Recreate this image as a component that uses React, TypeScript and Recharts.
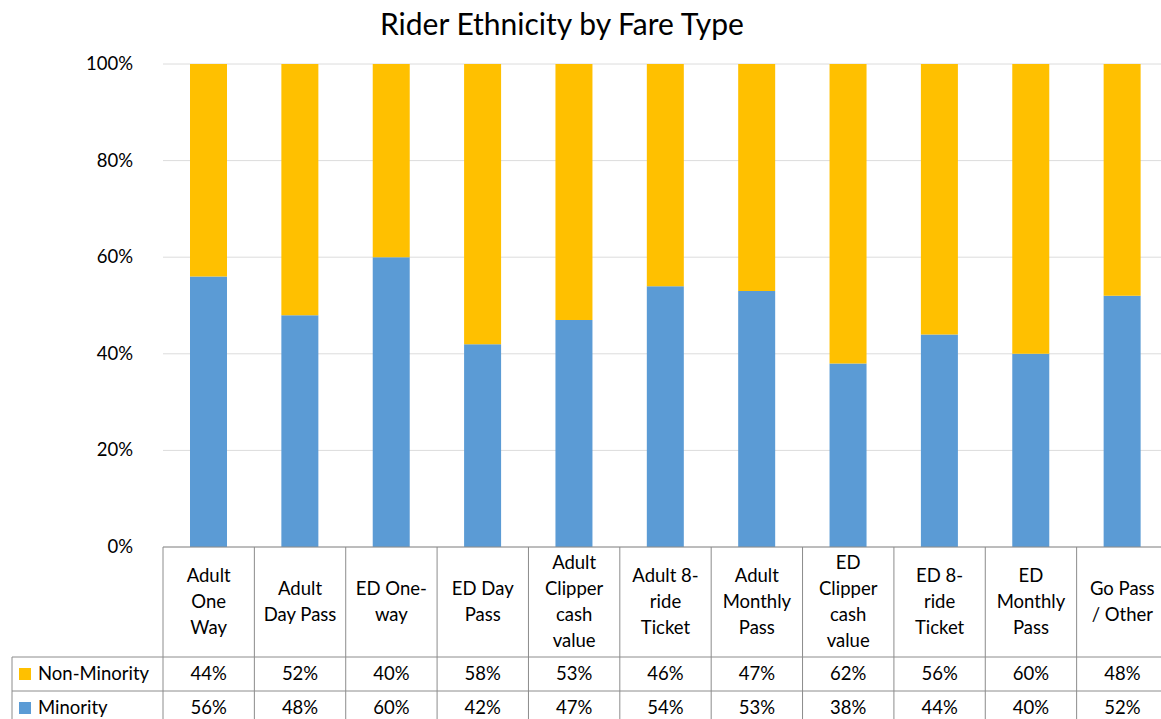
import React from 'react'
import { BarChart, Bar, XAxis, YAxis, CartesianGrid } from 'recharts'

const categories = [
  'Adult One Way',
  'Adult Day Pass',
  'ED One-way',
  'ED Day Pass',
  'Adult Clipper cash value',
  'Adult 8-ride Ticket',
  'Adult Monthly Pass',
  'ED Clipper cash value',
  'ED 8-ride Ticket',
  'ED Monthly Pass',
  'Go Pass / Other',
]

// how each header cell wraps in the data table
const categoryLines = [
  ['Adult', 'One', 'Way'],
  ['Adult', 'Day Pass'],
  ['ED One-', 'way'],
  ['ED Day', 'Pass'],
  ['Adult', 'Clipper', 'cash', 'value'],
  ['Adult 8-', 'ride', 'Ticket'],
  ['Adult', 'Monthly', 'Pass'],
  ['ED', 'Clipper', 'cash', 'value'],
  ['ED 8-', 'ride', 'Ticket'],
  ['ED', 'Monthly', 'Pass'],
  ['Go Pass', '/ Other'],
]

const minority = [56, 48, 60, 42, 47, 54, 53, 38, 44, 40, 52]
const nonMinority = [44, 52, 40, 58, 53, 46, 47, 62, 56, 60, 48]

const yTicks = [0, 20, 40, 60, 80, 100]

const data = categories.map((name, i) => ({
  name,
  minority: minority[i],
  nonMinority: nonMinority[i],
}))

const BLUE = '#5B9BD5'
const YELLOW = '#FFC000'
const BORDER = '#8c8c8c'
const FONT = 'Lato, "Liberation Sans", sans-serif'

const CHART_W = 1180
const CHART_H = 719
const Y_AXIS_W = 163
const MARGIN_RIGHT = 12
const COL_W = (CHART_W - MARGIN_RIGHT - Y_AXIS_W) / categories.length
const HEADER_H = 110
const ROW_H = 34
const LINE_H = 25.7
const TXT = 18.5

function YTick({ x, y, payload }: any) {
  return (
    <text x={x - 22} y={y} dy={6} textAnchor="end" fill="#000" fontSize={18.5} fontFamily={FONT}>
      {payload.value}%
    </text>
  )
}

function TableTick({ x, y, payload, index }: any) {
  const i = payload?.index ?? index
  const left = x - COL_W / 2
  const right = x + COL_W / 2
  const lines = categoryLines[i] || [payload.value]
  const headerMid = y + HEADER_H / 2
  const firstLine = headerMid - ((lines.length - 1) * LINE_H) / 2
  const row1 = y + HEADER_H
  const row2 = row1 + ROW_H
  const row3 = row2 + ROW_H
  const tableLeft = 12
  return (
    <g fontFamily={FONT} fontSize={TXT} fill="#000">
      <line x1={left} y1={y} x2={left} y2={row3 + 20} stroke={BORDER} />
      {i === categories.length - 1 && (
        <line x1={right} y1={y} x2={right} y2={row3 + 20} stroke={BORDER} />
      )}
      <line x1={i === 0 ? tableLeft : left} y1={row1} x2={right} y2={row1} stroke={BORDER} />
      <line x1={i === 0 ? tableLeft : left} y1={row2} x2={right} y2={row2} stroke={BORDER} />
      {lines.map((ln: string, k: number) => (
        <text key={k} x={x} y={firstLine + k * LINE_H} dy={6} textAnchor="middle">
          {ln}
        </text>
      ))}
      <text x={x} y={row1 + ROW_H / 2} dy={6} textAnchor="middle">
        {nonMinority[i]}%
      </text>
      <text x={x} y={row2 + ROW_H / 2} dy={6} textAnchor="middle">
        {minority[i]}%
      </text>
      {i === 0 && (
        <g>
          <line x1={tableLeft} y1={row1} x2={tableLeft} y2={row3 + 20} stroke={BORDER} />
          <rect x={19} y={row1 + ROW_H / 2 - 6} width={12} height={12} fill={YELLOW} />
          <text x={38} y={row1 + ROW_H / 2} dy={6} textAnchor="start">Non-Minority</text>
          <rect x={19} y={row2 + ROW_H / 2 - 6} width={12} height={12} fill={BLUE} />
          <text x={38} y={row2 + ROW_H / 2} dy={6} textAnchor="start">Minority</text>
        </g>
      )}
    </g>
  )
}

export default function App() {
  return (
    <div
      style={{
        position: 'absolute',
        left: 0,
        top: 0,
        width: 1161,
        height: 719,
        overflow: 'hidden',
        background: '#fff',
      }}
    >
      <div
        style={{
          position: 'absolute',
          top: 5,
          left: 0,
          width: 1124,
          textAlign: 'center',
          fontFamily: FONT,
          fontSize: 30,
          color: '#000',
        }}
      >
        Rider Ethnicity by Fare Type
      </div>
      <BarChart
        width={CHART_W}
        height={CHART_H}
        data={data}
        barSize={37}
        margin={{ top: 64, right: MARGIN_RIGHT, left: 0, bottom: 0 }}
      >
        <CartesianGrid vertical={false} stroke="#dcdcdc" />
        <YAxis
          width={Y_AXIS_W}
          domain={[0, 100]}
          ticks={yTicks}
          tick={<YTick />}
          axisLine={false}
          tickLine={false}
          allowDataOverflow
        />
        <XAxis
          dataKey="name"
          height={CHART_H - 547}
          axisLine={{ stroke: BORDER }}
          tickLine={false}
          tickSize={0}
          tickMargin={0}
          interval={0}
          tick={<TableTick />}
        />
        <Bar dataKey="minority" stackId="a" fill={BLUE} isAnimationActive={false} />
        <Bar dataKey="nonMinority" stackId="a" fill={YELLOW} isAnimationActive={false} />
      </BarChart>
    </div>
  )
}
